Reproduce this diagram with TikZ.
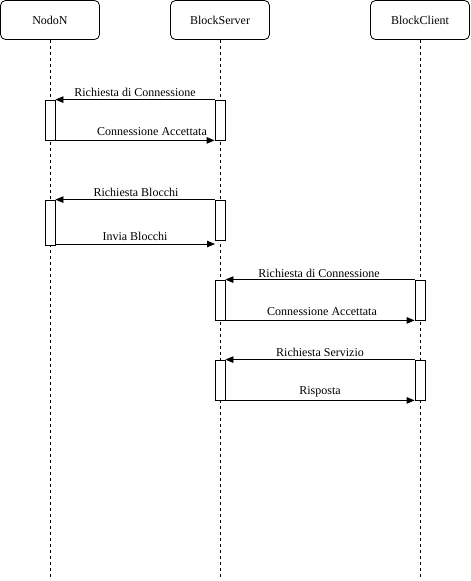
\documentclass[tikz,border=0pt]{standalone}
\usepackage{fontspec}
\setmainfont{Liberation Serif}
\usetikzlibrary{arrows.meta}
\begin{document}
\begin{tikzpicture}[x=1pt,y=-1pt,
  actor/.style={draw,rounded corners=5pt,line width=0.8pt,minimum width=99pt,minimum height=39pt,inner sep=0pt,font=\fontsize{12}{14}\selectfont},
  life/.style={draw,line width=0.8pt,dash pattern=on 3pt off 3pt},
  act/.style={draw,fill=white,line width=0.8pt,minimum width=10pt,inner sep=0pt},
  msg/.style={draw,line width=0.8pt,-{Triangle[length=8pt,width=6.5pt]}},
  lbl/.style={font=\fontsize{12}{14}\selectfont,inner sep=0pt}]
\useasboundingbox (0,0) rectangle (471,581);
\node[actor] (nodo) at (50,20) {NodoN};
\node[actor] (server) at (220,20) {BlockServer};
\node[actor] (client) at (420,20) {BlockClient};
\coordinate (nodoE) at (50,577);
\coordinate (serverE) at (220,577);
\coordinate (clientE) at (420,577);
\draw[life] (nodo.south) -- (nodoE);
\draw[life] (server.south) -- (serverE);
\draw[life] (client.south) -- (clientE);
% activations
\node[act,minimum height=40pt] (a1) at (50,120) {};
\node[act,minimum height=40pt] (b1) at (220,120) {};
\node[act,minimum height=45pt] (a2) at (50,222.5) {};
\node[act,minimum height=40pt] (b2) at (220,220) {};
\node[act,minimum height=40pt] (b3) at (220,300) {};
\node[act,minimum height=40pt] (c3) at (420,300) {};
\node[act,minimum height=40pt] (b4) at (220,380) {};
\node[act,minimum height=40pt] (c4) at (420,380) {};
% messages
\draw[msg] (b1.north west) -- (a1.north east);
\node[lbl] (m1) at (135,92) {Richiesta di Connessione};
\draw[msg] (a1.south east) -- (b1.south west);
\node[lbl] (m2) at (152,132) {Connessione Accettata};
\draw[msg] (b2.north west) -- (a2.north east);
\node[lbl] (m3) at (136,192) {Richiesta Blocchi};
\coordinate (a2s) at (55,244);
\coordinate (b2s) at (215,244);
\draw[msg] (a2s) -- (b2s);
\node[lbl] (m4) at (135,236) {Invia Blocchi};
\draw[msg] (c3.north west) -- (b3.north east);
\node[lbl] (m5) at (319,273) {Richiesta di Connessione};
\draw[msg] (b3.south east) -- (c3.south west);
\node[lbl] (m6) at (322,312) {Connessione Accettata};
\draw[msg] (c4.north west) -- (b4.north east);
\node[lbl] (m7) at (320,352) {Richiesta Servizio};
\draw[msg] (b4.south east) -- (c4.south west);
\node[lbl] (m8) at (320,392) {Risposta};
\end{tikzpicture}
\end{document}
